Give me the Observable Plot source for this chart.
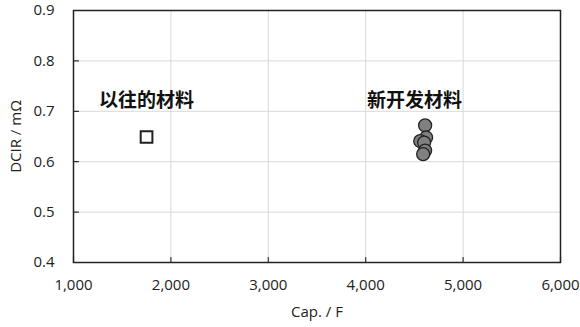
<!DOCTYPE html>
<html><head><meta charset="utf-8">
<script src="https://cdn.jsdelivr.net/npm/d3@7"></script>
<script src="https://cdn.jsdelivr.net/npm/@observablehq/plot@0.6"></script>
<style>body{margin:0;background:#fff;} svg{display:block;}</style>
</head><body><div id="chart"></div>
<script>
const xTicks = [1000, 2000, 3000, 4000, 5000, 6000];
const yTicks = [0.4, 0.5, 0.6, 0.7, 0.8, 0.9];
const oldCap = [1750];
const oldDcir = [0.649];
const newCap = [4610, 4620, 4560, 4600, 4610, 4590];
const newDcir = [0.672, 0.648, 0.641, 0.638, 0.622, 0.615];
const labelText = ["以往的材料", "新开发材料"];
const labelCap = [1750, 4500];
const labelDcir = [0.72, 0.72];

const oldData = oldCap.map((c, i) => ({cap: c, dcir: oldDcir[i]}));
const newData = newCap.map((c, i) => ({cap: c, dcir: newDcir[i]}));
const labels = labelText.map((t, i) => ({t, cap: labelCap[i], dcir: labelDcir[i]}));

const line = {draw(context, l) { context.moveTo(0, 0); context.lineTo(0, -l); }};

const font = "'Open Sans', 'Noto Sans', sans-serif";
const chart = Plot.plot({
  width: 580, height: 327,
  marginLeft: 73, marginRight: 20, marginTop: 10, marginBottom: 65,
  style: {fontFamily: font, fontSize: "15px", color: "#222", background: "#fff"},
  x: {domain: [1000, 6000], ticks: xTicks, tickFormat: d3.format(","), label: "Cap. / F"},
  y: {domain: [0.4, 0.9], ticks: yTicks, tickFormat: d3.format(".1f"), label: "DCIR / mΩ"},
  marks: [
    Plot.gridX(xTicks, {stroke: "#d9d9d9", strokeOpacity: 1}),
    Plot.gridY(yTicks, {stroke: "#d9d9d9", strokeOpacity: 1}),
    Plot.axisX(xTicks, {tickSize: 0, tickPadding: 17, tickFormat: d3.format(","), label: "Cap. / F", labelAnchor: "center", labelArrow: "none", labelOffset: 54, fill: "#222", fontSize: 15}),
    Plot.axisY(yTicks, {tickSize: 0, tickPadding: 19, tickFormat: d3.format(".1f"), label: "DCIR / mΩ", labelAnchor: "center", labelArrow: "none", labelOffset: 63, fill: "#222", fontSize: 15}),
    Plot.vector(xTicks, {x: d => d, y: yTicks[0], length: 5, rotate: 0, anchor: "start", shape: line, stroke: "#333", strokeWidth: 1.2}),
    Plot.vector(yTicks, {x: xTicks[0], y: d => d, length: 5, rotate: 90, anchor: "start", shape: line, stroke: "#333", strokeWidth: 1.2}),
    Plot.frame({stroke: "#222", strokeWidth: 1.5}),
    Plot.dot(oldData, {x: "cap", y: "dcir", symbol: "square", r: 6.6, fill: "#fff", stroke: "#222", strokeWidth: 2}),
    Plot.dot(newData, {x: "cap", y: "dcir", r: 6.5, fill: "#808080", stroke: "#222", strokeWidth: 1.3}),
    Plot.text(labels, {x: "cap", y: "dcir", text: "t", fontSize: 19, fontWeight: "bold", fill: "#111", fontFamily: "'Noto Sans CJK SC', sans-serif"})
  ]
});
document.getElementById("chart").appendChild(chart);
</script></body></html>
